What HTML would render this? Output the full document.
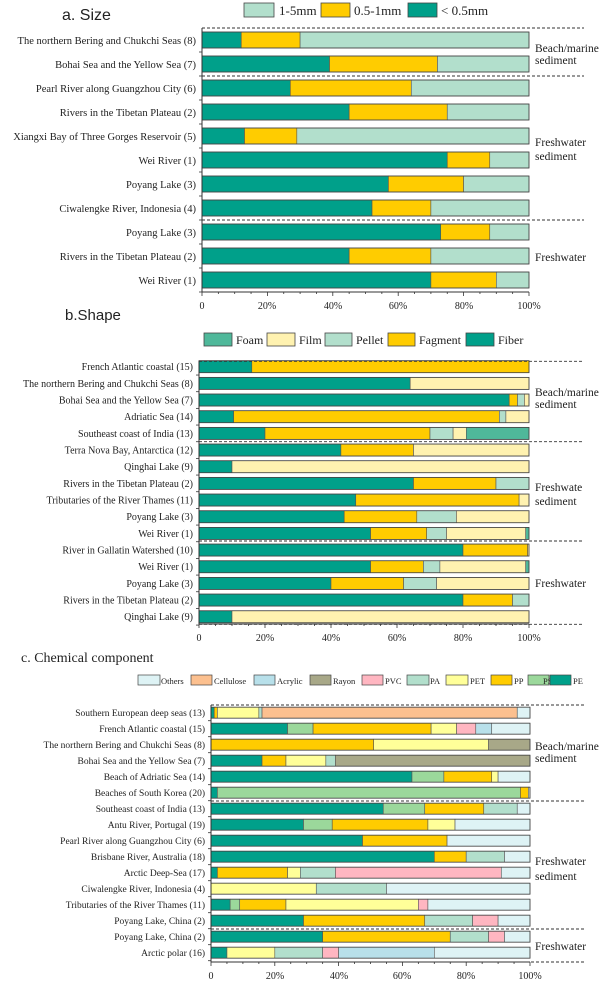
<!DOCTYPE html>
<html><head><meta charset="utf-8"><style>
body{margin:0;background:#fff}
svg{display:block}
.l{font-family:"Liberation Serif",serif;fill:#222}
</style></head><body>
<svg id="s" width="600" height="986" xmlns="http://www.w3.org/2000/svg">
<g id="bars"></g>
<text x="62" y="20" font-family="Liberation Sans,sans-serif" font-size="16" fill="#222">a. Size</text>
<rect x="244" y="3" width="30" height="14" fill="#b2dfcc" stroke="#444" stroke-width="0.8"/><text class="l" x="279" y="15" font-size="13">1-5mm</text>
<rect x="321" y="3" width="29" height="14" fill="#ffcc00" stroke="#444" stroke-width="0.8"/><text class="l" x="354" y="15" font-size="13">0.5-1mm</text>
<rect x="408" y="3" width="29" height="14" fill="#00a08a" stroke="#444" stroke-width="0.8"/><text class="l" x="441" y="15" font-size="13">&lt; 0.5mm</text>
<g class="l" font-size="10.5" text-anchor="end">
<text x="196" y="44">The northern Bering and Chukchi Seas (8)</text>
<text x="196" y="68">Bohai Sea and the Yellow Sea (7)</text>
<text x="196" y="92">Pearl River along Guangzhou City (6)</text>
<text x="196" y="116">Rivers in the Tibetan Plateau (2)</text>
<text x="196" y="140">Xiangxi Bay of Three Gorges Reservoir (5)</text>
<text x="196" y="164">Wei River (1)</text>
<text x="196" y="188">Poyang Lake (3)</text>
<text x="196" y="212">Ciwalengke River, Indonesia (4)</text>
<text x="196" y="236">Poyang Lake (3)</text>
<text x="196" y="260">Rivers in the Tibetan Plateau (2)</text>
<text x="196" y="284">Wei River (1)</text>
</g>
<g class="l" font-size="11.5">
<text x="535" y="52">Beach/marine</text><text x="535" y="64">sediment</text>
<text x="535" y="146">Freshwater</text><text x="535" y="160">sediment</text>
<text x="535" y="261">Freshwater</text>
</g>
<g class="l" font-size="10" text-anchor="middle">
<text x="202" y="309">0</text><text x="267" y="309">20%</text><text x="333" y="309">40%</text><text x="398" y="309">60%</text><text x="464" y="309">80%</text><text x="529" y="309">100%</text>
</g>
<text x="65" y="320" font-family="Liberation Sans,sans-serif" font-size="15" fill="#222">b.Shape</text>
<rect x="204" y="333" width="28" height="13" fill="#4fb89a" stroke="#444" stroke-width="0.8"/><text class="l" x="236" y="344" font-size="12">Foam</text>
<rect x="267" y="333" width="28" height="13" fill="#fff2b0" stroke="#444" stroke-width="0.8"/><text class="l" x="299" y="344" font-size="12">Film</text>
<rect x="325" y="333" width="27" height="13" fill="#b2dfcc" stroke="#444" stroke-width="0.8"/><text class="l" x="356" y="344" font-size="12">Pellet</text>
<rect x="388" y="333" width="27" height="13" fill="#ffcc00" stroke="#444" stroke-width="0.8"/><text class="l" x="419" y="344" font-size="12">Fagment</text>
<rect x="466" y="333" width="28" height="13" fill="#00a08a" stroke="#444" stroke-width="0.8"/><text class="l" x="498" y="344" font-size="12">Fiber</text>
<g class="l" font-size="10" text-anchor="end">
<text x="193" y="370">French Atlantic coastal (15)</text>
<text x="193" y="387">The northern Bering and Chukchi Seas (8)</text>
<text x="193" y="403.5">Bohai Sea and the Yellow Sea (7)</text>
<text x="193" y="420">Adriatic Sea (14)</text>
<text x="193" y="437">Southeast coast of India (13)</text>
<text x="193" y="453.5">Terra Nova Bay, Antarctica (12)</text>
<text x="193" y="470">Qinghai Lake (9)</text>
<text x="193" y="487">Rivers in the Tibetan Plateau (2)</text>
<text x="193" y="503.5">Tributaries of the River Thames (11)</text>
<text x="193" y="520">Poyang Lake (3)</text>
<text x="193" y="537">Wei River (1)</text>
<text x="193" y="553.5">River in Gallatin Watershed (10)</text>
<text x="193" y="570">Wei River (1)</text>
<text x="193" y="587">Poyang Lake (3)</text>
<text x="193" y="603.5">Rivers in the Tibetan Plateau (2)</text>
<text x="193" y="620">Qinghai Lake (9)</text>
</g>
<g class="l" font-size="11.5">
<text x="535" y="396">Beach/marine</text><text x="535" y="408">sediment</text>
<text x="535" y="491">Freshwate</text><text x="535" y="505">sediment</text>
<text x="535" y="587">Freshwater</text>
</g>
<g class="l" font-size="10" text-anchor="middle">
<text x="199" y="641">0</text><text x="265" y="641">20%</text><text x="331" y="641">40%</text><text x="397" y="641">60%</text><text x="463" y="641">80%</text><text x="529" y="641">100%</text>
</g>
<text x="21" y="662" font-family="Liberation Serif,serif" font-size="14" fill="#222">c. Chemical component</text>
<g font-size="8.5" class="l">
<rect x="138" y="675" width="22" height="10" fill="#def3f5" stroke="#444" stroke-width="0.7"/><text x="161" y="684">Others</text>
<rect x="191" y="675" width="21" height="10" fill="#fcc08f" stroke="#444" stroke-width="0.7"/><text x="214" y="684">Cellulose</text>
<rect x="254" y="675" width="21" height="10" fill="#b8e0ea" stroke="#444" stroke-width="0.7"/><text x="277" y="684">Acrylic</text>
<rect x="310" y="675" width="21" height="10" fill="#a8a888" stroke="#444" stroke-width="0.7"/><text x="333" y="684">Rayon</text>
<rect x="362" y="675" width="21" height="10" fill="#ffb6c1" stroke="#444" stroke-width="0.7"/><text x="385" y="684">PVC</text>
<rect x="407" y="675" width="22" height="10" fill="#b2dfcc" stroke="#444" stroke-width="0.7"/><text x="430" y="684">PA</text>
<rect x="446" y="675" width="22" height="10" fill="#ffff99" stroke="#444" stroke-width="0.7"/><text x="470" y="684">PET</text>
<rect x="491" y="675" width="21" height="10" fill="#ffcc00" stroke="#444" stroke-width="0.7"/><text x="514" y="684">PP</text>
<rect x="528" y="675" width="21" height="10" fill="#9bd89b" stroke="#444" stroke-width="0.7"/><text x="543" y="684">PS</text>
<rect x="550" y="675" width="21" height="10" fill="#00a08a" stroke="#444" stroke-width="0.7"/><text x="573" y="684">PE</text>
</g>
<g class="l" font-size="9.5" text-anchor="end">
<text x="205" y="716">Southern European deep seas (13)</text>
<text x="205" y="732">French Atlantic coastal (15)</text>
<text x="205" y="748">The northern Bering and Chukchi Seas (8)</text>
<text x="205" y="764">Bohai Sea and the Yellow Sea (7)</text>
<text x="205" y="780">Beach of Adriatic Sea (14)</text>
<text x="205" y="796">Beaches of South Korea (20)</text>
<text x="205" y="812">Southeast coast of India (13)</text>
<text x="205" y="828">Antu River, Portugal (19)</text>
<text x="205" y="844">Pearl River along Guangzhou City (6)</text>
<text x="205" y="860">Brisbane River, Australia (18)</text>
<text x="205" y="876">Arctic Deep-Sea (17)</text>
<text x="205" y="892">Ciwalengke River, Indonesia (4)</text>
<text x="205" y="908">Tributaries of the River Thames (11)</text>
<text x="205" y="924">Poyang Lake, China (2)</text>
<text x="205" y="940">Poyang Lake, China (2)</text>
<text x="205" y="956">Arctic polar (16)</text>
</g>
<g class="l" font-size="11.5">
<text x="535" y="750">Beach/marine</text><text x="535" y="762">sediment</text>
<text x="535" y="865">Freshwater</text><text x="535" y="880">sediment</text>
<text x="535" y="950">Freshwater</text>
</g>
<g class="l" font-size="10" text-anchor="middle">
<text x="211" y="979">0</text><text x="275" y="979">20%</text><text x="339" y="979">40%</text><text x="402" y="979">60%</text><text x="466" y="979">80%</text><text x="530" y="979">100%</text>
</g>
</svg>
<script>
var g=document.getElementById('bars'),NS='http://www.w3.org/2000/svg';
function el(t,a){var e=document.createElementNS(NS,t);for(var k in a)e.setAttribute(k,a[k]);g.appendChild(e);return e;}
function panel(p){
  var w=p.x1-p.x0;
  p.rows.forEach(function(r,i){
    var yc=p.y0+i*p.dy,prev=0;
    r.forEach(function(s){
      var c=p.c[s[0]],v=s[1];
      el('rect',{x:p.x0+prev/100*w,y:yc-p.h/2,width:(v-prev)/100*w,height:p.h,fill:c,stroke:'#555','stroke-width':0.6});
      prev=v;
    });
    el('rect',{x:p.x0,y:yc-p.h/2,width:w,height:p.h,fill:'none',stroke:'#444','stroke-width':0.8});
    el('line',{x1:p.x0-3,x2:p.x0,y1:yc+p.dy/2,y2:yc+p.dy/2,stroke:'#333','stroke-width':0.8});
  });
  el('line',{x1:p.x0,x2:p.x0,y1:p.top,y2:p.ax,stroke:'#333','stroke-width':1});
  el('line',{x1:p.x0,x2:p.x1,y1:p.ax,y2:p.ax,stroke:'#333','stroke-width':1});
  for(var k=0;k<=20;k++){var x=p.x0+k*w/20;el('line',{x1:x,x2:x,y1:p.ax,y2:p.ax+(k%4==0?4:2),stroke:'#333','stroke-width':0.8});}
  p.dash.forEach(function(y){el('line',{x1:p.x0,x2:584,y1:y,y2:y,stroke:'#333','stroke-width':0.9,'stroke-dasharray':'3,2'});});
}
var A={s:'#b2dfcc',m:'#ffcc00',f:'#00a08a'};
panel({x0:202,x1:529,y0:40,dy:24,h:16,top:28,ax:292,dash:[28,76,220],c:A,rows:[
[['f',12],['m',30],['s',100]],[['f',39],['m',72],['s',100]],[['f',27],['m',64],['s',100]],[['f',45],['m',75],['s',100]],
[['f',13],['m',29],['s',100]],[['f',75],['m',88],['s',100]],[['f',57],['m',80],['s',100]],[['f',52],['m',70],['s',100]],
[['f',73],['m',88],['s',100]],[['f',45],['m',70],['s',100]],[['f',70],['m',90],['s',100]]]});
var B={fi:'#00a08a',fa:'#ffcc00',pe:'#b2dfcc',fl:'#fff2b0',fo:'#4fb89a'};
panel({x0:199,x1:529,y0:366.7,dy:16.67,h:12,top:361,ax:624,dash:[361.3,441.7,541,624.3],c:B,rows:[
[['fi',16],['fa',100]],[['fi',64],['fl',100]],[['fi',94],['fa',96.5],['pe',98.6],['fl',100]],
[['fi',10.5],['fa',91],['pe',93],['fl',100]],[['fi',20],['fa',70],['pe',77],['fl',81],['fo',100]],
[['fi',43],['fa',65],['fl',100]],[['fi',10],['fl',100]],[['fi',65],['fa',90],['pe',100]],
[['fi',47.5],['fa',97],['fl',100]],[['fi',44],['fa',66],['pe',78],['fl',100]],
[['fi',52],['fa',69],['pe',75],['fl',99],['fo',100]],[['fi',80],['fa',99.6],['fl',100]],
[['fi',52],['fa',68],['pe',73],['fl',99],['fo',100]],[['fi',40],['fa',62],['pe',72],['fl',100]],
[['fi',80],['fa',95],['pe',100]],[['fi',10],['fl',100]]]});
var C={PE:'#00a08a',PS:'#9bd89b',PP:'#ffcc00',PET:'#ffff99',PA:'#b2dfcc',PVC:'#ffb6c1',R:'#a8a888',AC:'#b8e0ea',CE:'#fcc08f',O:'#def3f5'};
panel({x0:211,x1:530,y0:712.7,dy:16,h:11,top:705,ax:962,dash:[705,801,929,962],c:C,rows:[
[['PE',1],['PP',2],['PET',15],['PA',16],['CE',96],['O',100]],
[['PE',24],['PS',32],['PP',69],['PET',77],['PVC',83],['AC',88],['O',100]],
[['PP',51],['PET',87],['R',100]],
[['PE',16],['PP',23.5],['PET',36],['PA',39],['R',100]],
[['PE',63],['PS',73],['PP',88],['PET',90],['O',100]],
[['PE',2],['PS',97],['PP',99.5],['O',100]],
[['PE',54],['PS',67],['PP',85.5],['PA',96],['O',100]],
[['PE',29],['PS',38],['PP',68],['PET',76.5],['O',100]],
[['PE',47.5],['PP',74],['O',100]],
[['PE',70],['PP',80],['PA',92],['O',100]],
[['PE',2],['PP',24],['PET',28],['PA',39],['PVC',91],['O',100]],
[['PET',33],['PA',55],['O',100]],
[['PE',6],['PS',9],['PP',23.5],['PET',65],['PVC',68],['O',100]],
[['PE',29],['PP',67],['PA',82],['PVC',90],['O',100]],
[['PE',35],['PP',75],['PA',87],['PVC',92],['O',100]],
[['PE',5],['PET',20],['PA',35],['PVC',40],['AC',70],['O',100]]]});
</script>
</body></html>
